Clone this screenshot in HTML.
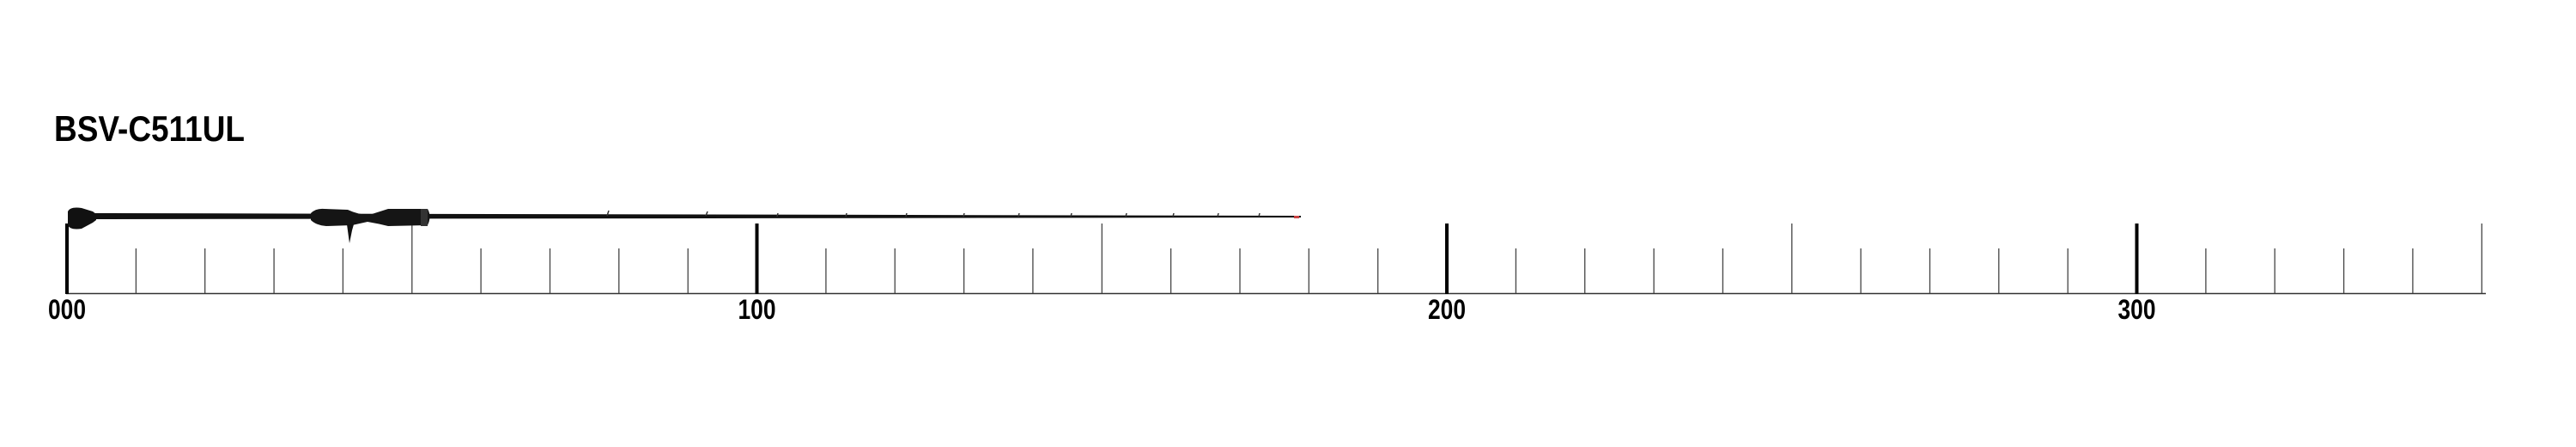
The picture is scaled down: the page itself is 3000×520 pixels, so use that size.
<!DOCTYPE html>
<html><head><meta charset="utf-8"><style>
html,body{margin:0;padding:0;background:#fff;}
svg{display:block;}
text{font-family:"Liberation Sans",sans-serif;font-weight:bold;fill:#000;}
</style></head><body>
<svg width="3000" height="520" viewBox="0 0 3000 520" xmlns="http://www.w3.org/2000/svg">
<text x="63" y="164" font-size="42" textLength="222" lengthAdjust="spacingAndGlyphs">BSV-C511UL</text>
<line x1="77" y1="341.5" x2="2895" y2="341.5" stroke="#333" stroke-width="1.5"/>
<g stroke="#444" stroke-width="1.3">
<line x1="158.4" y1="289" x2="158.4" y2="341"/><line x1="238.7" y1="289" x2="238.7" y2="341"/><line x1="319.1" y1="289" x2="319.1" y2="341"/><line x1="399.4" y1="289" x2="399.4" y2="341"/><line x1="479.8" y1="260" x2="479.8" y2="341"/><line x1="560.1" y1="289" x2="560.1" y2="341"/><line x1="640.5" y1="289" x2="640.5" y2="341"/><line x1="720.8" y1="289" x2="720.8" y2="341"/><line x1="801.2" y1="289" x2="801.2" y2="341"/>
<line x1="961.9" y1="289" x2="961.9" y2="341"/><line x1="1042.2" y1="289" x2="1042.2" y2="341"/><line x1="1122.6" y1="289" x2="1122.6" y2="341"/><line x1="1202.9" y1="289" x2="1202.9" y2="341"/><line x1="1283.3" y1="260" x2="1283.3" y2="341"/><line x1="1363.6" y1="289" x2="1363.6" y2="341"/><line x1="1444" y1="289" x2="1444" y2="341"/><line x1="1524.3" y1="289" x2="1524.3" y2="341"/><line x1="1604.7" y1="289" x2="1604.7" y2="341"/>
<line x1="1765.4" y1="289" x2="1765.4" y2="341"/><line x1="1845.7" y1="289" x2="1845.7" y2="341"/><line x1="1926.1" y1="289" x2="1926.1" y2="341"/><line x1="2006.4" y1="289" x2="2006.4" y2="341"/><line x1="2086.8" y1="260" x2="2086.8" y2="341"/><line x1="2167.1" y1="289" x2="2167.1" y2="341"/><line x1="2247.5" y1="289" x2="2247.5" y2="341"/><line x1="2327.8" y1="289" x2="2327.8" y2="341"/><line x1="2408.2" y1="289" x2="2408.2" y2="341"/>
<line x1="2568.9" y1="289" x2="2568.9" y2="341"/><line x1="2649.2" y1="289" x2="2649.2" y2="341"/><line x1="2729.6" y1="289" x2="2729.6" y2="341"/><line x1="2809.9" y1="289" x2="2809.9" y2="341"/><line x1="2890.3" y1="260" x2="2890.3" y2="341"/>
</g>
<g stroke="#000" stroke-width="4">
<line x1="78" y1="260" x2="78" y2="342"/><line x1="881.5" y1="260" x2="881.5" y2="342"/><line x1="1685" y1="260" x2="1685" y2="342"/><line x1="2488.5" y1="260" x2="2488.5" y2="342"/>
</g>
<g font-size="32" text-anchor="middle">
<text x="78" y="371" textLength="44" lengthAdjust="spacingAndGlyphs">000</text>
<text x="881.5" y="371" textLength="44" lengthAdjust="spacingAndGlyphs">100</text>
<text x="1685" y="371" textLength="44" lengthAdjust="spacingAndGlyphs">200</text>
<text x="2488.5" y="371" textLength="44" lengthAdjust="spacingAndGlyphs">300</text>
</g>
<!-- rod -->
<path d="M110 248 L1515 251 L1515 253 L110 255 Z" fill="#111"/>
<path d="M79 246 Q82 240 95 242 L108 246 L112 249 L112 256 L108 259 L95 266 Q82 268 79 262 Z" fill="#111"/>
<path d="M362 248 Q368 242 378 243 L405 244 Q418 250 430 250 L452 243 L498 243 Q503 252 498 262 L452 263 Q440 260 428 258 L410 262 L380 263 Q368 262 362 256 Z" fill="#151515"/>
<path d="M404 261 L412 261 L410 268 L407 283 Z" fill="#111"/>
<rect x="490" y="243" width="8" height="20" fill="#333"/>
<g stroke="#333" stroke-width="1.5" fill="none">
<path d="M707 251 l2 -6"/><path d="M822 251 l2 -5"/><path d="M905 252 l1 -4"/><path d="M985 252 l1 -4"/><path d="M1055 252 l1 -4"/><path d="M1122 252 l1 -4"/><path d="M1186 252 l1 -4"/><path d="M1247 252 l1 -4"/><path d="M1311 252 l1 -4"/><path d="M1366 252 l1 -4"/><path d="M1418 252 l1 -4"/><path d="M1466 252 l1 -4"/>
</g>
<rect x="1507" y="251" width="6" height="3" fill="#c44"/>
</svg>
</body></html>
